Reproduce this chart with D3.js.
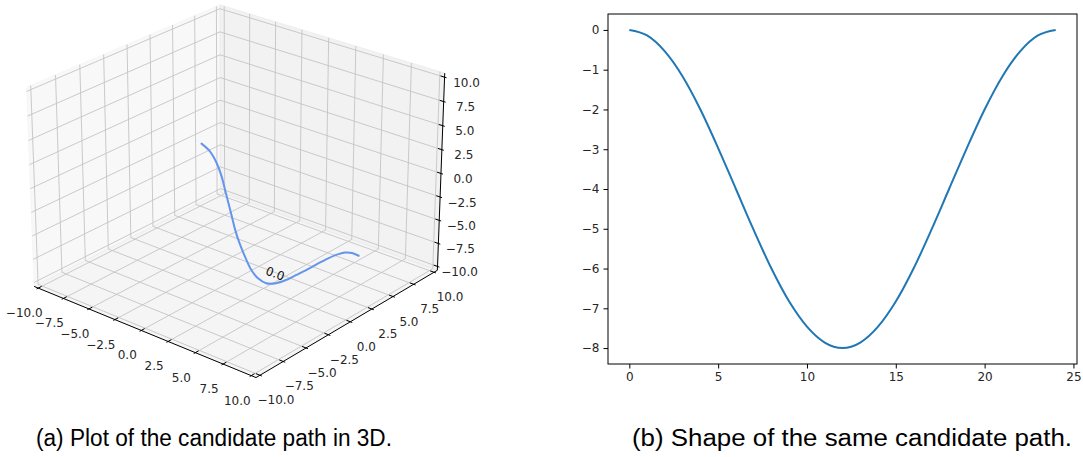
<!DOCTYPE html>
<html>
<head>
<meta charset="utf-8">
<script src="https://cdn.jsdelivr.net/npm/d3@7"></script>
<style>
body { margin: 0; background: #fff; }
svg { display: block; }
.tlabel { font-family: "DejaVu Sans", sans-serif; font-size: 12px; fill: #262626; }
.caption { font-family: "Liberation Sans", Arial, sans-serif; font-size: 23px; fill: #000; }
</style>
</head>
<body>
<svg id="chart" width="1083" height="457"></svg>
<script>
// left panel: candidate path in 3D
const pathX = [1.11, 1.55, 1.91, 2.17, 2.35, 2.53, 2.71, 2.88, 3.11, 3.42, 3.77, 4.12,
               4.57, 5.10, 5.64, 6.17, 6.70, 7.24, 7.77, 8.30, 8.84, 9.19, 9.55];
const pathY = [-5.13, -4.76, -4.46, -4.24, -4.09, -3.94, -3.79, -3.64, -3.45, -3.20, -2.90, -2.60,
               -2.23, -1.78, -1.33, -0.89, -0.44, 0.01, 0.46, 0.90, 1.35, 1.65, 1.95];
const pathZ = [6.68, 5.89, 4.70, 3.33, 1.97, 0.61, -0.76, -2.13, -3.49, -4.95, -6.39, -7.24,
               -7.76, -7.76, -7.42, -6.91, -6.39, -5.81, -5.27, -4.79, -4.51, -4.58, -4.86];
const notePoint = [4.5, -2.3, -6.8];
const noteText = "0.0";
const ticks3d = [-10, -7.5, -5, -2.5, 0, 2.5, 5, 7.5, 10];

// right panel: shape of the same path
const shapeT = [0, 1, 2, 3, 4, 5, 6, 7, 8, 9, 10, 11, 12, 13, 14, 15, 16, 17, 18, 19, 20, 21, 22, 23, 24];
const shapeV = [0, -0.14, -0.54, -1.17, -2.0, -2.97, -4.0, -5.03, -6.0, -6.83, -7.46, -7.86, -8.0,
                -7.86, -7.46, -6.83, -6.0, -5.03, -4.0, -2.97, -2.0, -1.17, -0.54, -0.14, 0];
const shapeXTicks = [0, 5, 10, 15, 20, 25];
const shapeYTicks = [0, -1, -2, -3, -4, -5, -6, -7, -8];

const captions = ["(a) Plot of the candidate path in 3D.", "(b) Shape of the same candidate path."];

const svg = d3.select("#chart");
const fmt = d => (d < 0 ? "\u2212" : "") + Math.abs(d).toFixed(1);

// ---------- 3D projection (matplotlib style) ----------
const elev = 25, azim = -50, dist = 10;
const lo = -10 - 20 / 48, hi = 10 + 20 / 48;
const aspect = [4, 4, 3];
const an = Math.hypot(...aspect);
const box = aspect.map(a => a * 1.8294640721620434 / an);
const er = elev * Math.PI / 180, ar = azim * Math.PI / 180;
const dot = (a, b) => a[0] * b[0] + a[1] * b[1] + a[2] * b[2];
const cross = (a, b) => [a[1] * b[2] - a[2] * b[1], a[2] * b[0] - a[0] * b[2], a[0] * b[1] - a[1] * b[0]];
const wv = [Math.cos(er) * Math.cos(ar), Math.cos(er) * Math.sin(ar), Math.sin(er)];
let uv = cross([0, 0, 1], wv);
const un = Math.hypot(...uv);
uv = uv.map(c => c / un);
const vv = cross(wv, uv);

const px = d3.scaleLinear().domain([-0.1, 0.1]).range([237 - 255, 237 + 255]);
const py = d3.scaleLinear().domain([-0.1, 0.1]).range([181 + 255, 181 - 255]);

function project(p) {
    const q = p.map((c, i) => ((c - lo) / (hi - lo) - 0.5) * box[i]);
    const d = dist - dot(wv, q);
    return [px(dot(uv, q) / d), py(dot(vv, q) / d)];
}

const g3 = svg.append("g");
const line2 = d3.line();

// panes
const panes = [
    {pts: [[lo, lo, lo], [lo, hi, lo], [lo, hi, hi], [lo, lo, hi]], c: "#f2f2f2"},
    {pts: [[lo, hi, lo], [hi, hi, lo], [hi, hi, hi], [lo, hi, hi]], c: "#e6e6e6"},
    {pts: [[lo, lo, lo], [hi, lo, lo], [hi, hi, lo], [lo, hi, lo]], c: "#ececec"}
];
panes.forEach(p => {
    g3.append("path")
        .attr("d", line2(p.pts.map(project)) + "Z")
        .attr("fill", p.c).attr("fill-opacity", 0.5)
        .attr("stroke", p.c).attr("stroke-opacity", 0.5).attr("stroke-width", 1);
});

// grid
ticks3d.forEach(t => {
    const lines = [
        [[t, lo, lo], [t, hi, lo], [t, hi, hi]],
        [[hi, t, lo], [lo, t, lo], [lo, t, hi]],
        [[lo, lo, t], [lo, hi, t], [hi, hi, t]]
    ];
    lines.forEach(l => {
        g3.append("path")
            .attr("d", line2(l.map(project)))
            .attr("fill", "none").attr("stroke", "#c4c4c4").attr("stroke-width", 0.9);
    });
});

// axis lines
const axLines = [
    [[lo, lo, lo], [hi, lo, lo]],
    [[hi, lo, lo], [hi, hi, lo]],
    [[hi, hi, lo], [hi, hi, hi]]
];
axLines.forEach(l => {
    g3.append("path").attr("d", line2(l.map(project)))
        .attr("stroke", "#000").attr("stroke-width", 1).attr("fill", "none");
});

// ticks + labels
const td = (hi - lo) / 12;
ticks3d.forEach(t => {
    const tk = [
        [[t, lo - 0.1 * td, lo], [t, lo + 0.2 * td, lo]],
        [[hi + 0.1 * td, t, lo], [hi - 0.2 * td, t, lo]],
        [[hi + 0.1 * td, hi, t], [hi - 0.2 * td, hi, t]]
    ];
    tk.forEach(l => {
        g3.append("path").attr("d", line2(l.map(project)))
            .attr("stroke", "#000").attr("stroke-width", 1);
    });
    const xp = project([t, lo, lo]);
    g3.append("text").attr("class", "tlabel")
        .attr("x", xp[0] - 14).attr("y", xp[1] + 25)
        .attr("text-anchor", "middle").attr("dominant-baseline", "central")
        .text(fmt(t));
    const yp = project([hi, t, lo]);
    g3.append("text").attr("class", "tlabel")
        .attr("x", yp[0] + 16).attr("y", yp[1] + 25)
        .attr("text-anchor", "middle").attr("dominant-baseline", "central")
        .text(fmt(t));
    const zp = project([hi, hi, t]);
    g3.append("text").attr("class", "tlabel")
        .attr("x", zp[0] + 22).attr("y", zp[1] + 5.5)
        .attr("text-anchor", "middle").attr("dominant-baseline", "central")
        .text(fmt(t));
});

// path
const pathPts = pathX.map((x, i) => project([x, pathY[i], pathZ[i]]));
g3.append("path")
    .attr("d", d3.line().curve(d3.curveCatmullRom.alpha(0.5))(pathPts))
    .attr("fill", "none").attr("stroke", "#6495ed").attr("stroke-width", 2)
    .attr("stroke-linecap", "round");

const np = project(notePoint);
g3.append("text").attr("class", "tlabel")
    .attr("transform", "translate(" + np[0] + "," + np[1] + ") rotate(20)")
    .style("fill", "#111")
    .text(noteText);

// ---------- right panel ----------
const r = {left: 608, right: 1077, top: 14, bottom: 364};
const xs = d3.scaleLinear().domain([-1.2, 25.2]).range([r.left, r.right]);
const ys = d3.scaleLinear().domain([-8.4, 0.4]).range([r.bottom, r.top]);
const g2 = svg.append("g");

g2.append("path")
    .datum(shapeT.map((t, i) => [t, shapeV[i]]))
    .attr("d", d3.line().x(d => xs(d[0])).y(d => ys(d[1])).curve(d3.curveMonotoneX))
    .attr("fill", "none").attr("stroke", "#1f77b4").attr("stroke-width", 2);

const xAxis = g2.append("g").attr("transform", "translate(0," + r.bottom + ")")
    .call(d3.axisBottom(xs).tickValues(shapeXTicks).tickSize(4.5).tickPadding(4).tickFormat(d3.format("d")));
const yAxis = g2.append("g").attr("transform", "translate(" + r.left + ",0)")
    .call(d3.axisLeft(ys).tickValues(shapeYTicks).tickSize(4.5).tickPadding(4)
        .tickFormat(d => (d < 0 ? "\u2212" : "") + Math.abs(d)));
[xAxis, yAxis].forEach(a => {
    a.select(".domain").remove();
    a.selectAll("text").attr("class", "tlabel").attr("fill", null);
    a.selectAll("line").attr("stroke", "#000").attr("stroke-width", 1);
});
g2.append("rect")
    .attr("x", r.left).attr("y", r.top)
    .attr("width", r.right - r.left).attr("height", r.bottom - r.top)
    .attr("fill", "none").attr("stroke", "#000").attr("stroke-width", 1);

// captions
const capX = [214, 852];
const capW = [356, 440];
captions.forEach((c, i) => {
    svg.append("text").attr("class", "caption")
        .attr("x", capX[i]).attr("y", 446)
        .attr("text-anchor", "middle")
        .attr("textLength", capW[i]).attr("lengthAdjust", "spacingAndGlyphs")
        .text(c);
});
</script>
</body>
</html>
